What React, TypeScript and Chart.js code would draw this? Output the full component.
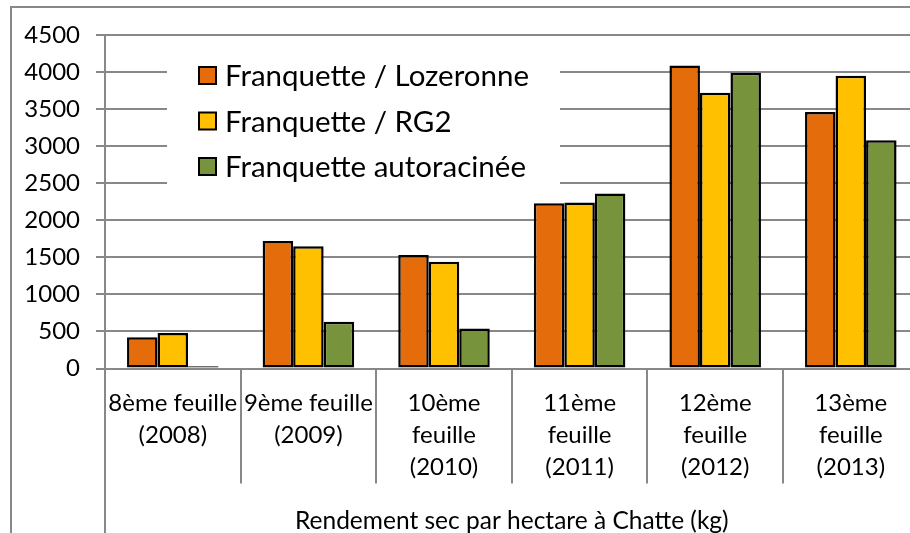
import React, { useEffect, useRef } from "react";
import { Chart, registerables } from "chart.js";

Chart.register(...registerables);

const categories: string[][] = [
  ["8ème feuille", "(2008)"],
  ["9ème feuille", "(2009)"],
  ["10ème", "feuille", "(2010)"],
  ["11ème", "feuille", "(2011)"],
  ["12ème", "feuille", "(2012)"],
  ["13ème", "feuille", "(2013)"],
];
const seriesNames = ["Franquette / Lozeronne", "Franquette / RG2", "Franquette autoracinée"];
const lozeronne = [420, 1720, 1530, 2230, 4090, 3460];
const rg2 = [480, 1650, 1440, 2240, 3720, 3950];
const autoracinee = [30, 630, 540, 2360, 3990, 3080];
const seriesColors = ["#E46C0A", "#FFC000", "#77933C"];
const yMin = 0;
const yMax = 4500;
const yStep = 500;
const axisTitle = "Rendement sec par hectare à Chatte (kg)";

const FONT = "Lato";
const GRID = "#888888";
const CW = 940;
const CH = 560;

const insideLegend = {
  id: "insideLegend",
  beforeDatasetsDraw(chart: any) {
    const { ctx, chartArea } = chart;
    const L = chartArea.left;
    const T = chartArea.top;
    ctx.save();
    ctx.fillStyle = "#ffffff";
    ctx.fillRect(L + 62, T + 14, 393, 162);
    ctx.font = `29.5px ${FONT}`;
    ctx.textBaseline = "middle";
    ctx.textAlign = "left";
    chart.data.datasets.forEach((ds: any, i: number) => {
      const cy = T + 40.5 + i * 45.5;
      ctx.fillStyle = ds.backgroundColor;
      ctx.fillRect(L + 94, cy - 8.5, 17, 17);
      ctx.lineWidth = 2;
      ctx.strokeStyle = "#000";
      ctx.strokeRect(L + 94, cy - 8.5, 17, 17);
      ctx.fillStyle = "#000";
      ctx.fillText(ds.label, L + 120, cy + 1);
    });
    ctx.restore();
  },
};

const axisExtension = {
  id: "axisExtension",
  afterDraw(chart: any) {
    const { ctx, chartArea } = chart;
    ctx.save();
    ctx.strokeStyle = GRID;
    ctx.lineWidth = 2;
    ctx.beginPath();
    ctx.moveTo(chartArea.left, chartArea.bottom);
    ctx.lineTo(chartArea.left, chart.height);
    ctx.stroke();
    ctx.restore();
  },
};

export default function App() {
  const ref = useRef<HTMLCanvasElement>(null);

  useEffect(() => {
    if (!ref.current) return;
    Chart.defaults.font.family = FONT;
    const series = [lozeronne, rg2, autoracinee];
    const chart = new Chart(ref.current, {
      type: "bar",
      data: {
        labels: categories,
        datasets: series.map((d, i) => ({
          label: seriesNames[i],
          data: d,
          backgroundColor: seriesColors[i],
          borderColor: "#000000",
          borderWidth: 2.5,
          borderSkipped: false,
          categoryPercentage: 0.675,
          barPercentage: 1,
        })),
      },
      options: {
        responsive: false,
        animation: false,
        devicePixelRatio: 1,
        layout: { padding: { left: 0, top: 35, right: CW - 918.6, bottom: 0 } },
        plugins: {
          legend: { display: false },
          tooltip: { enabled: false },
        },
        scales: {
          x: {
            offset: true,
            grid: {
              offset: true,
              drawOnChartArea: false,
              drawTicks: true,
              tickLength: 115,
              color: GRID,
              lineWidth: 2,
            },
            border: { display: true, color: GRID, width: 2 },
            ticks: {
              color: "#000",
              font: { size: 24, lineHeight: 1.333 },
              padding: -96.5,
              maxRotation: 0,
              minRotation: 0,
              autoSkip: false,
            },
            title: {
              display: true,
              text: axisTitle,
              color: "#000",
              font: { size: 24.5 },
              padding: { top: 0, bottom: 24 },
            },
            afterFit(scale: any) {
              scale.height = CH - 368.5;
            },
          },
          y: {
            min: yMin,
            max: yMax,
            ticks: {
              stepSize: yStep,
              color: "#000",
              font: { size: 24 },
              padding: 16,
              callback: (v: any) => String(v),
            },
            grid: { color: GRID, lineWidth: 2, tickLength: 9 },
            border: { display: true, color: GRID, width: 2 },
            afterFit(scale: any) {
              scale.width = 105;
            },
          },
        },
      },
      plugins: [insideLegend, axisExtension],
    } as any);
    return () => chart.destroy();
  }, []);

  return (
    <div
      style={{
        position: "fixed",
        left: 0,
        top: 0,
        width: 910,
        height: 533,
        overflow: "hidden",
        background: "#fff",
      }}
    >
      <div
        style={{
          position: "absolute",
          left: 10,
          top: 6,
          width: 2000,
          height: 2000,
          border: `2px solid ${GRID}`,
        }}
      />
      <canvas
        ref={ref}
        width={CW}
        height={CH}
        style={{ position: "absolute", left: 0, top: 0, display: "block" }}
      />
    </div>
  );
}
